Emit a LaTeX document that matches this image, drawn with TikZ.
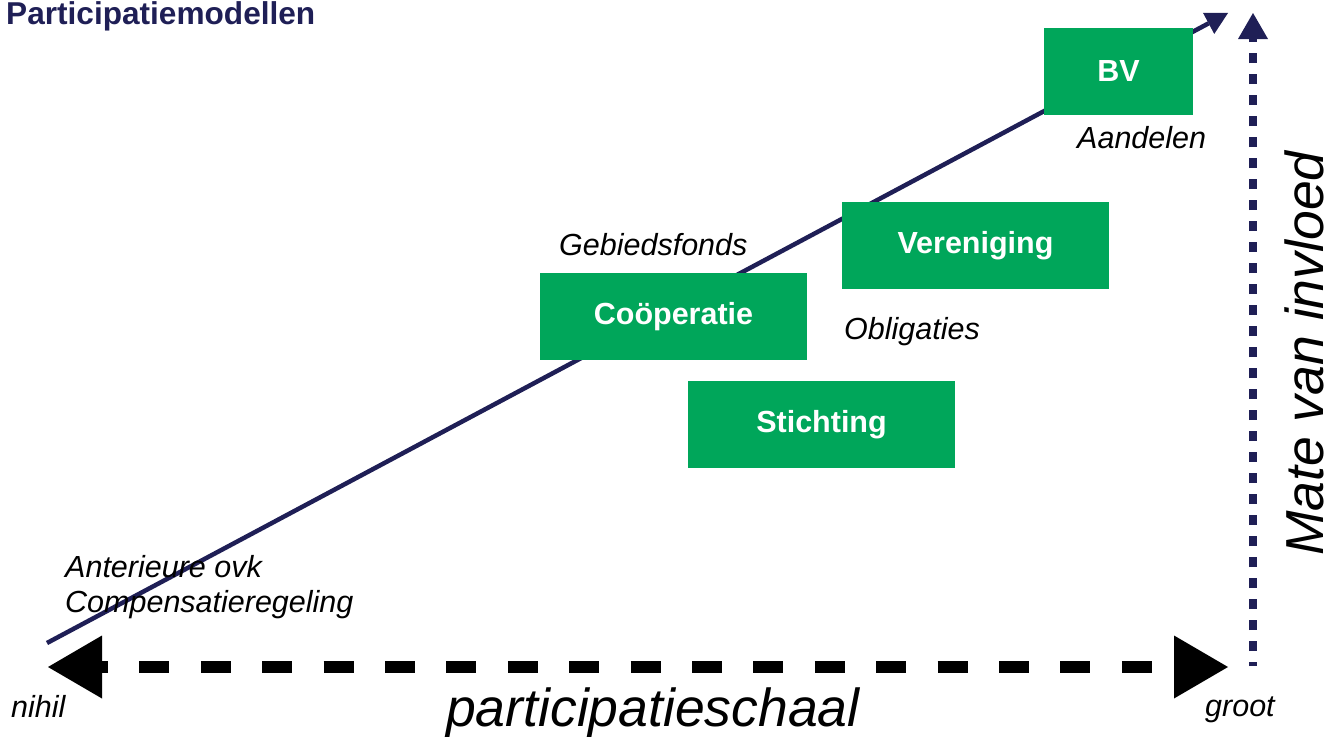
\documentclass[tikz,border=0pt]{standalone}
\usepackage{fontspec}
\setmainfont{Liberation Sans}
\usetikzlibrary{arrows.meta}
\definecolor{navy}{RGB}{31,31,86}
\definecolor{boxgreen}{RGB}{0,166,90}
\tikzset{
  gbox/.style={fill=boxgreen, draw=none, inner sep=0pt, text=white,
    font=\fontsize{30.5}{32}\selectfont\bfseries},
  lbl/.style={inner sep=0pt, anchor=base west, font=\fontsize{30.5}{32}\selectfont\itshape},
  big/.style={inner sep=0pt, anchor=base west, font=\fontsize{53.5}{56}\selectfont\itshape},
}
\begin{document}
\begin{tikzpicture}[x=1pt,y=-1pt]
\useasboundingbox (0,0) rectangle (1338,736);
\clip (0,0) rectangle (1338,736);
% title
\node[inner sep=0pt, anchor=base west, text=navy, font=\fontsize{31.6}{33}\selectfont\bfseries] (title) at (6,24) {Participatiemodellen};
% coordinates
\coordinate (d0) at (47,643);
\coordinate (d1) at (1228,13);
\coordinate (h0) at (48,667);
\coordinate (h1) at (1228,667);
\coordinate (v0) at (1253,666);
\coordinate (v1) at (1253,13);
% diagonal arrow
\draw[navy, line width=4.5, -{Triangle[length=22pt 0 0, width=24pt 0 0, line width=0pt 0 0]}] (d0) -- (d1);
% horizontal dashed arrow
\draw[black, line width=12, dash pattern=on 30 off 31.4, dash phase=24,
  {Triangle[length=54pt 0 0, width=63pt 0 0, line width=0pt 0 0]}-{Triangle[length=54pt 0 0, width=63pt 0 0, line width=0pt 0 0]}] (h0) -- (h1);
% vertical dotted arrow
\draw[navy, line width=8, dash pattern=on 10 off 11, dash phase=6,
  -{Triangle[length=26pt 0 0, width=30pt 0 0, line width=0pt 0 0]}] (v0) -- (v1);
% boxes
\node[gbox, minimum width=149, minimum height=87] (bv) at (1118.5,71.5) {BV};
\node[gbox, minimum width=267, minimum height=87] (ver) at (975.5,245.5) {Vereniging};
\node[gbox, minimum width=267, minimum height=87] (coop) at (673.5,316.5) {Coöperatie};
\node[gbox, minimum width=267, minimum height=87] (stich) at (821.5,424.5) {Stichting};
% labels
\node[lbl] (aand) at (1077,148) {Aandelen};
\node[lbl] (geb) at (559,255) {Gebiedsfonds};
\node[lbl] (obl) at (844,339) {Obligaties};
\node[lbl] (ant) at (65,577) {Anterieure ovk};
\node[lbl] (comp) at (65,612) {Compensatieregeling};
\node[lbl] (nihil) at (11,717) {nihil};
\node[lbl] (groot) at (1205,716) {groot};
\node[big] (schaal) at (446,726) {participatieschaal};
\node[big, rotate=90] (mate) at (1323,556) {Mate van invloed};
\end{tikzpicture}
\end{document}
